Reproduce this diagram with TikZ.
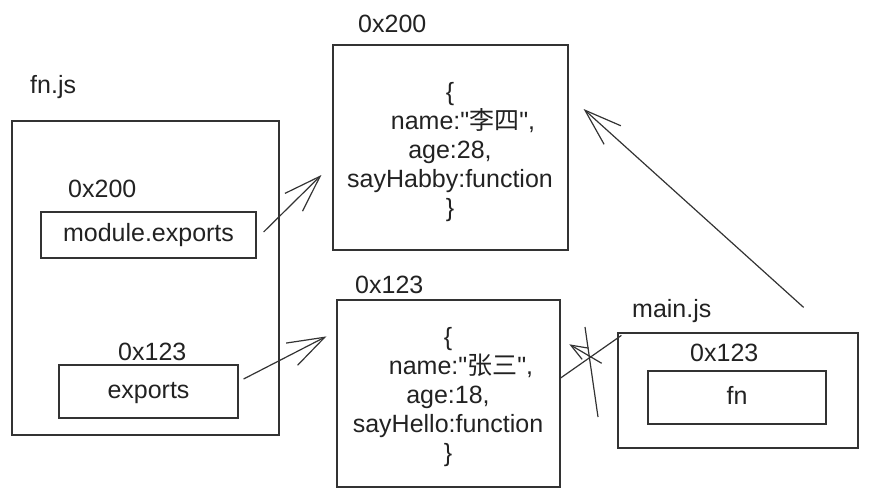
\documentclass[tikz,border=0pt]{standalone}
\usepackage{fontspec}
\setmainfont{Liberation Sans}
\newfontfamily\cjk{Noto Sans CJK SC}
\usepackage{tikz}
\usetikzlibrary{arrows.meta}
\definecolor{frame}{HTML}{333333}
\definecolor{ink}{HTML}{222222}

\begin{document}
\begin{tikzpicture}[x=1pt,y=1pt,font=\fontsize{25}{29}\selectfont,text=ink,
  box/.style={draw=frame,line width=1.2pt,inner sep=0pt,text height=18pt,text depth=5pt},
  addr/.style={anchor=base west,inner sep=0pt},
  objtxt/.style={align=center,inner sep=0pt},
  link/.style={draw=frame,line width=1.2pt},
  ptr/.style={link,-{Straight Barb[length=37pt,width=25pt]}},
  ptrsmall/.style={link,-{Straight Barb[length=17pt,width=13pt]}}]
  \useasboundingbox (0,0) rectangle (870,-498);
  % fn.js
  \node[addr] (fnjs) at (30,-93) {fn.js};
  \node[box,minimum width=267pt,minimum height=314pt] (fnbox) at (145.5,-278) {};
  \node[addr] (addrA) at (68,-197) {0x200};
  \node[box,minimum width=215pt,minimum height=46pt] (modexp) at (148.5,-235) {module.exports};
  \node[addr] (addrB) at (118,-360) {0x123};
  \node[box,minimum width=179pt,minimum height=53pt] (expts) at (148.5,-391.5) {exports};
  % heap
  \node[addr] (addrTop) at (358,-32) {0x200};
  \node[box,minimum width=235pt,minimum height=205pt] (objA) at (450.5,-147.5) {};
  \node[objtxt] (objAtxt) at (450,-152.5) {\{\\\hspace*{26pt}name:\textquotedbl{\cjk 李四}\textquotedbl,\\age:28,\\sayHabby:function\\\}};
  \node[addr] (addrMid) at (355,-293) {0x123};
  \node[box,minimum width=223pt,minimum height=187pt] (objB) at (448.5,-393.5) {};
  \node[objtxt] (objBtxt) at (448,-397) {\{\\\hspace*{26pt}name:\textquotedbl{\cjk 张三}\textquotedbl,\\age:18,\\sayHello:function\\\}};
  % main.js
  \node[addr] (mainjs) at (632,-317) {main.js};
  \node[box,minimum width=240pt,minimum height=115pt] (mainbox) at (738,-390.5) {};
  \node[addr] (addrC) at (690,-361) {0x123};
  \node[box,minimum width=178pt,minimum height=53pt] (fnref) at (737,-397.5) {fn};
  % references
  \draw[ptr] ([xshift=7pt,yshift=3pt]modexp.east) -- ([xshift=-11pt,yshift=-27.5pt]objA.west);
  \draw[ptr] ([xshift=5pt,yshift=12.5pt]expts.east) -- ([xshift=-10pt,yshift=-37pt]objB.north west);
  \draw[ptr] ([xshift=-55pt,yshift=25pt]mainbox.north east) -- ([xshift=15pt,yshift=38.5pt]objA.east);
  % old link, crossed out
  \draw[link] ([xshift=4pt,yshift=-3pt]mainbox.north west) -- ([yshift=15.5pt]objB.east);
  \coordinate (tailB) at (601.7,-363.3);
  \coordinate (headB) at (569.3,-344.3);
  \draw[ptrsmall] (tailB) -- (headB);
  \coordinate (cutA) at (585,-327);
  \coordinate (cutB) at (598,-417);
  \draw[link] (cutA) -- (cutB);
\end{tikzpicture}
\end{document}
